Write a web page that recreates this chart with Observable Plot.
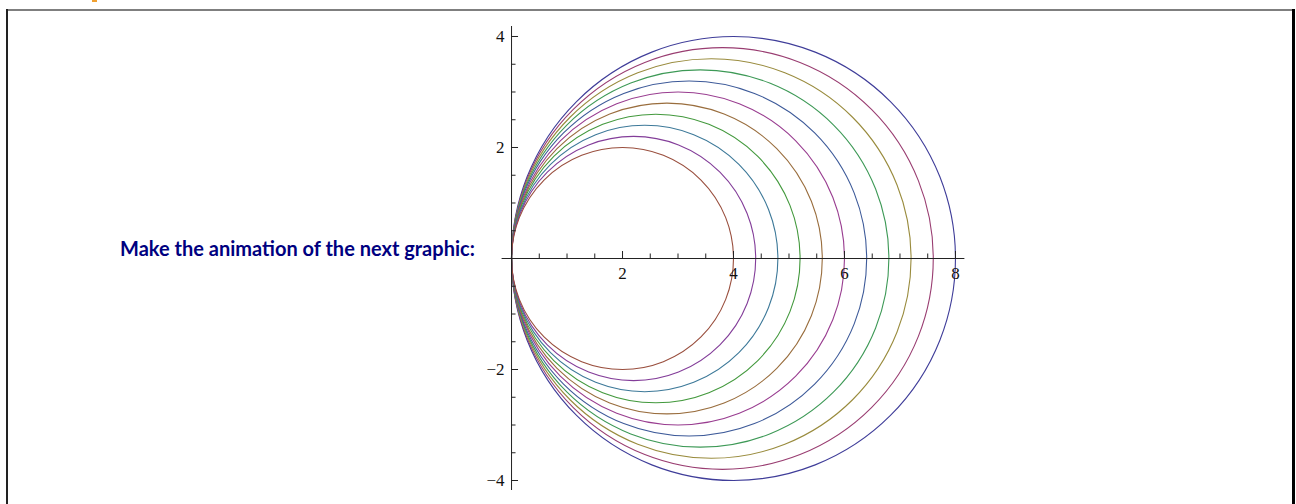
<!DOCTYPE html>
<html><head><meta charset="utf-8">
<script src="https://cdn.jsdelivr.net/npm/d3@7"></script>
<script src="https://cdn.jsdelivr.net/npm/@observablehq/plot@0.6"></script>
<style>
html,body{margin:0;padding:0;background:#fff}
body{width:1296px;height:504px;position:relative;overflow:hidden}
#chart{position:absolute;left:0;top:0}
.frame-top{position:absolute;left:6px;top:9px;width:1288px;height:2px;background:#7f7f7f}
.frame-left{position:absolute;left:6px;top:9px;width:2px;height:500px;background:#222}
.frame-right{position:absolute;left:1292px;top:9px;width:3px;height:500px;background:#000}
.tag{position:absolute;left:92px;top:0;width:5px;height:2px;background:#f0a030}
#title{position:absolute;left:120px;top:238px;font-family:Lato,sans-serif;font-weight:bold;font-size:20px;line-height:20px;color:#000080;white-space:nowrap}
</style></head><body>
<div class="tag"></div>
<div class="frame-top"></div>
<div class="frame-left"></div>
<div class="frame-right"></div>
<div id="title">Make the animation of the next graphic:</div>
<div id="chart"></div>
<script>
// Radii of the circles (x - r)^2 + y^2 = r^2, drawn outermost first
const radii = [4, 3.8, 3.6, 3.4, 3.2, 3, 2.8, 2.6, 2.4, 2.2, 2];
const colors = ["#3f3d99","#993d71","#998b3d","#3d9956","#3d5a99","#993d90","#996d3d","#43993d","#3d7999","#833d99","#994e3d"];
const xMajor = [2, 4, 6, 8];
const xLabels = ["2", "4", "6", "8"];
const xMinor = [0.5, 1, 1.5, 2.5, 3, 3.5, 4.5, 5, 5.5, 6.5, 7, 7.5];
const yMajor = [-4, -2, 2, 4];
const yLabels = ["\u22124", "\u22122", "2", "4"];
const yMinor = [-3.5, -3, -2.5, -1.5, -1, -0.5, 0.5, 1, 1.5, 2.5, 3, 3.5];

const circles = radii.map((r, i) => ({r, color: colors[i]}));

const W = 1296, H = 504;
const mL = 501.6, mR = 331.6, mT = 26, mB = 14;
const xDomain = [-0.17, 8.17], yDomain = [-4.18, 4.18];
const pxPerUnit = (W - mL - mR) / (xDomain[1] - xDomain[0]);
const axisColor = "#222";
const tickFont = "Liberation Serif";

const chart = Plot.plot({
  width: W, height: H,
  marginLeft: mL, marginRight: mR, marginTop: mT, marginBottom: mB,
  style: {background: "transparent", overflow: "visible", fontFamily: tickFont, fontSize: "17px"},
  x: {domain: xDomain, axis: null},
  y: {domain: yDomain, axis: null},
  r: {type: "linear", domain: [0, 4], range: [0, 4 * pxPerUnit]},
  color: {type: "identity"},
  marks: [
    Plot.dot(circles, {x: "r", y: 0, r: "r", stroke: "color", fill: "none", strokeWidth: 1.1}),
    Plot.ruleY([0], {stroke: axisColor, strokeWidth: 1}),
    Plot.ruleX([0], {stroke: axisColor, strokeWidth: 1}),
    Plot.ruleX(xMajor, {x: d => d, y1: 0, y2: 0, insetTop: -7, stroke: axisColor}),
    Plot.ruleX(xMinor, {x: d => d, y1: 0, y2: 0, insetTop: -4.5, stroke: axisColor}),
    Plot.ruleY(yMajor, {y: d => d, x1: 0, x2: 0, insetRight: -7, stroke: axisColor}),
    Plot.ruleY(yMinor, {y: d => d, x1: 0, x2: 0, insetRight: -4.5, stroke: axisColor}),
    Plot.text(xMajor, {x: d => d, y: 0, text: (d, i) => xLabels[i], dy: 15, fontFamily: tickFont, fontSize: 17, fill: "#111"}),
    Plot.text(yMajor, {x: 0, y: d => d, text: (d, i) => yLabels[i], dx: -7, textAnchor: "end", fontFamily: tickFont, fontSize: 17, fill: "#111"})
  ]
});
document.getElementById("chart").appendChild(chart);
</script>
</body></html>
